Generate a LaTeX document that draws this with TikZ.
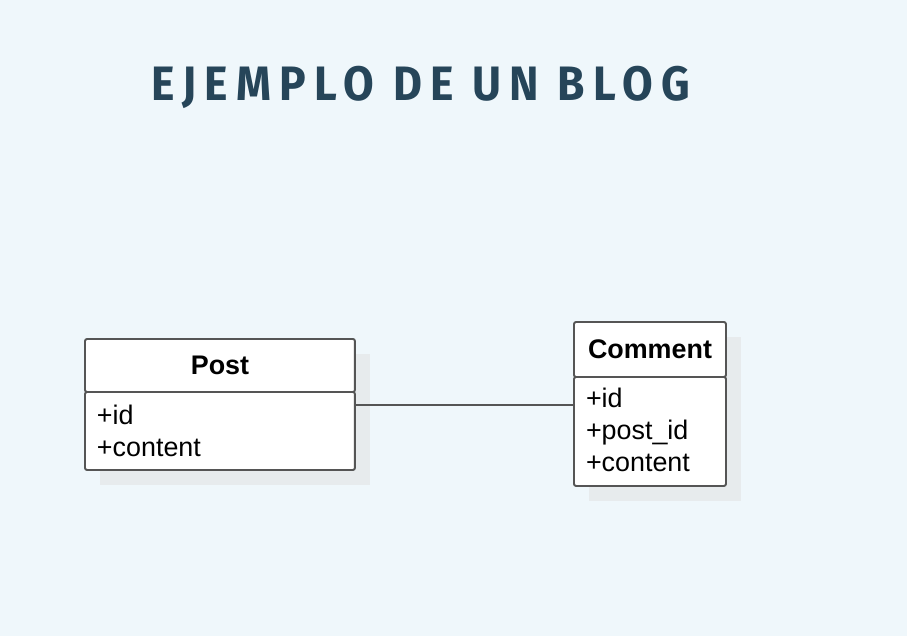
\documentclass[tikz,border=0pt]{standalone}
\usepackage{fontspec}
\setmainfont{Liberation Sans}
\newfontfamily\titlefont[LetterSpace=18.5]{Fira Sans Bold}
\usetikzlibrary{positioning,backgrounds}
\definecolor{bgblue}{HTML}{EFF7FB}
\definecolor{titleblue}{HTML}{264559}
\definecolor{boxline}{HTML}{555555}
\definecolor{shadowgray}{HTML}{E7EBED}
\tikzset{
    umlhead/.style={draw=boxline, line width=1.1pt, fill=white, inner sep=0pt, outer sep=0pt,
        rounded corners=1.2pt, font=\fontsize{15.3}{18.1}\selectfont\bfseries},
    umlbody/.style={draw=boxline, line width=1.1pt, fill=white, inner xsep=0.24cm, outer sep=0pt,
        rounded corners=1.2pt, inner ysep=0pt, align=left, font=\fontsize{15.3}{18.1}\selectfont},
    umlshadow/.style={fill=shadowgray}
}
\begin{document}
\begin{tikzpicture}[x=0.02cm, y=-0.02cm]
    \useasboundingbox (0,0) rectangle (907,636);

    \node[text=titleblue] (title) at (421,87)
        {\scalebox{0.92}[1]{\fontsize{27.5}{30}\titlefont EJEMPLO DE UN BLOG}};

    % Post
    \node[umlhead, anchor=north west, minimum width=5.4cm, minimum height=1.06cm] (posthead) at (85,339) {Post};
    \node[umlbody, below=0pt of posthead, minimum height=1.56cm, text width=4.92cm] (postbody) {+id\\+content};

    % Comment
    \node[umlhead, anchor=north west, minimum width=3.04cm, minimum height=1.1cm] (commenthead) at (574,322) {Comment};
    \node[umlbody, below=0pt of commenthead, minimum height=2.18cm, text width=2.56cm] (commentbody) {+id\\+post\_id\\+content\rule[-2pt]{0pt}{0pt}};

    \draw[boxline, line width=1.1pt] (postbody.east |- 0,405) -- (commentbody.west |- 0,405);

    % background and shadows
    \begin{scope}[on background layer]
        \fill[bgblue] (0,0) rectangle (907,636);
        \fill[umlshadow] ([shift={(15,15)}]posthead.north west) rectangle ([shift={(15,15)}]postbody.south east);
        \fill[umlshadow] ([shift={(15,15)}]commenthead.north west) rectangle ([shift={(15,15)}]commentbody.south east);
    \end{scope}
\end{tikzpicture}
\end{document}
